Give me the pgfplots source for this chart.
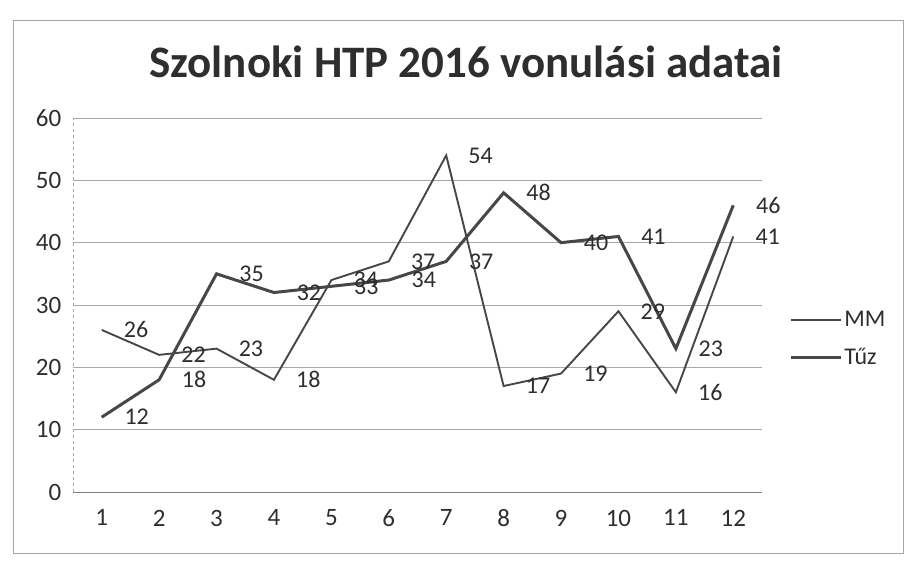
\documentclass[border=0pt]{standalone}
\usepackage{pgfplots}
\pgfplotsset{compat=1.18}
\usepackage{fontspec}
\setmainfont{Carlito}
\definecolor{lineg}{HTML}{474747}
\definecolor{gridg}{HTML}{A8A8A8}
\definecolor{txtg}{HTML}{2E2E2E}
\begin{document}
\begin{tikzpicture}
\useasboundingbox (0,0) rectangle (908pt,566pt);
\draw[gray!70, line width=0.8pt] (13pt,13pt) rectangle (903pt,546pt);
\node[font=\fontsize{45}{50}\selectfont\bfseries, text=txtg] at (466pt,504pt) {Szolnoki HTP 2016 vonulási adatai};
\begin{axis}[
  at={(73pt,74pt)}, anchor=south west,
  scale only axis, width=689pt, height=374pt,
  xmin=0.5, xmax=12.5, ymin=0, ymax=60,
  xtick={1,...,12}, ytick={0,10,...,60},
  minor xtick={0.5,1.5,...,12.5},
  xtick style={draw=none}, ytick style={draw=none},
  minor tick length=6pt, tick align=outside,
  minor x tick style={gray},
  ymajorgrids, grid style={gridg, line width=0.8pt},
  axis x line*=bottom, axis y line*=left,
  x axis line style={gray, line width=0.8pt, -},
  y axis line style={gridg, line width=0.8pt, dashed, -},
  tick label style={font=\fontsize{25}{28}\selectfont, text=txtg},
  /pgf/number format/assume math mode=true,
  xticklabel style={yshift=-10pt},
  yticklabel style={xshift=-4pt},
  nodes near coords,
  every node near coord/.append style={anchor=west, xshift=18pt, yshift=0pt, font=\fontsize{24}{26}\selectfont, text=txtg},
  legend style={at={(1.035,0.41)}, anchor=west, draw=none, fill=none,
    font=\fontsize{24}{26}\selectfont, text=txtg, row sep=16pt},
  legend cell align=left,
  legend image code/.code={\draw[#1] (0pt,0pt) -- (50pt,0pt);},
  clip=false,
]
\addplot[lineg, line width=1.9pt] coordinates {(1,26) (2,22) (3,23) (4,18) (5,34) (6,37) (7,54) (8,17) (9,19) (10,29) (11,16) (12,41)};
\addlegendentry{MM}
\addplot[lineg, line width=3pt] coordinates {(1,12) (2,18) (3,35) (4,32) (5,33) (6,34) (7,37) (8,48) (9,40) (10,41) (11,23) (12,46)};
\addlegendentry{Tűz}
\end{axis}
\end{tikzpicture}
\end{document}
